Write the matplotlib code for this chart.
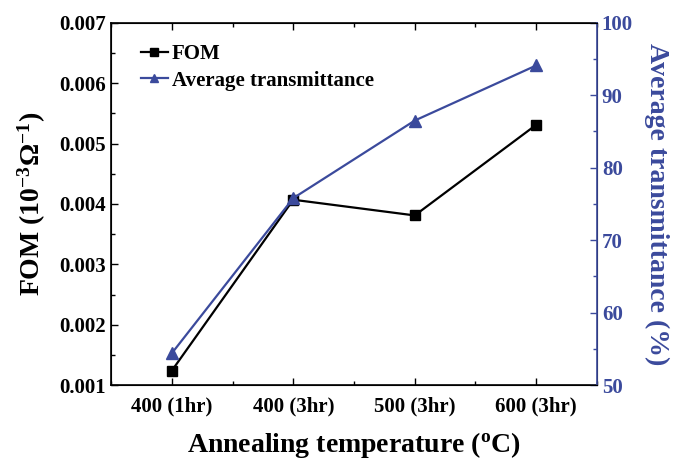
import matplotlib
matplotlib.use('Agg')
import matplotlib.pyplot as plt
from matplotlib.ticker import MultipleLocator, AutoMinorLocator

categories = ['400 (1hr)', '400 (3hr)', '500 (3hr)', '600 (3hr)']
fom = [0.00124, 0.00407, 0.00381, 0.00531]
transmittance = [54.4, 75.8, 86.5, 94.1]

blue = '#3b4a9c'
plt.rcParams['font.family'] = 'Liberation Serif'
plt.rcParams['font.weight'] = 'bold'
plt.rcParams['axes.labelweight'] = 'bold'
plt.rcParams['mathtext.fontset'] = 'custom'
plt.rcParams['mathtext.rm'] = 'Liberation Serif:bold'
plt.rcParams['mathtext.it'] = 'Liberation Serif:bold'
plt.rcParams['mathtext.bf'] = 'Liberation Serif:bold'

fig = plt.figure(figsize=(6.73, 4.63), dpi=100)
ax = fig.add_axes([0.165, 0.168, 0.722, 0.783])
ax2 = ax.twinx()

x = list(range(len(categories)))
l1, = ax.plot(x, fom, color='black', marker='s', markersize=7, linewidth=1.6, label='FOM')
l2, = ax2.plot(x, transmittance, color=blue, marker='^', markersize=8, linewidth=1.6,
               label='Average transmittance')

ax.set_xlim(-0.5, 3.5)
ax.set_ylim(0.001, 0.007)
ax2.set_ylim(50, 100)
ax.set_xticks(x)
ax.set_xticklabels(categories)
ax.xaxis.set_minor_locator(MultipleLocator(0.5))
ax.yaxis.set_major_locator(MultipleLocator(0.001))
ax.yaxis.set_minor_locator(AutoMinorLocator(2))
ax.yaxis.set_major_formatter(plt.FormatStrFormatter('%.3f'))
ax2.yaxis.set_major_locator(MultipleLocator(10))
ax2.yaxis.set_minor_locator(AutoMinorLocator(2))

ax.tick_params(which='both', direction='in', labelsize=15, top=True)
ax.tick_params(axis='x', pad=8)
ax.tick_params(which='major', length=5, width=1)
ax.tick_params(which='minor', length=3, width=1)
ax2.tick_params(which='both', direction='in', labelsize=15, colors=blue)
ax2.tick_params(which='major', length=5, width=1)
ax2.tick_params(which='minor', length=3, width=1)
ax2.spines['right'].set_color(blue)
ax2.spines['right'].set_linewidth(1.2)
for s in ['left', 'bottom', 'top']:
    ax.spines[s].set_linewidth(1.2)

ax.set_xlabel(r'Annealing temperature ($^{\mathrm{o}}$C)', fontsize=20, fontweight='bold', labelpad=10)
ax.set_ylabel(r'FOM (10$^{-3}\Omega^{-1}$)', fontsize=20, fontweight='bold', labelpad=8)
ax2.set_ylabel('Average transmittance (%)', fontsize=20, fontweight='bold', color=blue,
               rotation=270, labelpad=26)

ax.legend([l1, l2], ['FOM', 'Average transmittance'], loc='upper left',
          bbox_to_anchor=(0.035, 0.975), frameon=False, prop={'size': 15, 'weight': 'bold'},
          handlelength=1.3, handletextpad=0.2, borderaxespad=0.2, labelspacing=0.3,
          markerscale=0.8)

fig.savefig('out.png', dpi=100)
